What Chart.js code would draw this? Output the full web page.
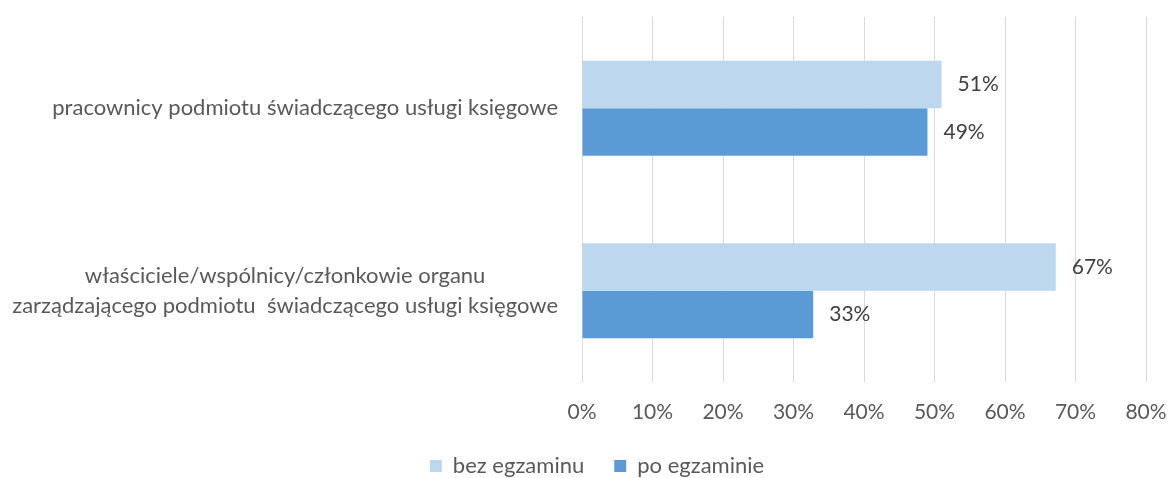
<!DOCTYPE html>
<html>
<head>
<meta charset="utf-8">
<script src="https://cdn.jsdelivr.net/npm/chart.js@4"></script>
<style>
  html, body { margin: 0; padding: 0; background: #fff; }
  #wrap { width: 1170px; height: 478px; }
</style>
</head>
<body>
<div id="wrap"><canvas id="chart"></canvas></div>
<script>
// data
const categories = [
  ['pracownicy podmiotu świadczącego usługi księgowe'],
  ['właściciele/wspólnicy/członkowie organu', 'zarządzającego podmiotu  świadczącego usługi księgowe']
];
const seriesNames = ['bez egzaminu', 'po egzaminie'];
const bezEgzaminu = [51, 67.2];
const poEgzaminie = [49, 32.8];
const xMax = 80;
const xStep = 10;

const FONT = 'Lato';
const textGrey = '#595959';
const PAD_LEFT = 48;

// value labels at the end of each bar
const valueLabels = {
  id: 'valueLabels',
  afterDatasetsDraw(chart) {
    const ctx = chart.ctx;
    ctx.save();
    ctx.font = '21px ' + FONT;
    ctx.fillStyle = '#404040';
    ctx.textAlign = 'left';
    ctx.textBaseline = 'middle';
    chart.data.datasets.forEach((ds, i) => {
      chart.getDatasetMeta(i).data.forEach((bar, j) => {
        ctx.fillText(Math.round(ds.data[j]) + '%', bar.x + 16, bar.y);
      });
    });
    ctx.restore();
  }
};

// category labels: each block right aligned, lines centred inside the block
const categoryLabels = {
  id: 'categoryLabels',
  afterDraw(chart) {
    const ctx = chart.ctx;
    const yScale = chart.scales.y;
    const right = chart.chartArea.left - 24;
    const lineH = 30;
    ctx.save();
    ctx.font = '22px ' + FONT;
    ctx.fillStyle = textGrey;
    ctx.textAlign = 'center';
    ctx.textBaseline = 'middle';
    categories.forEach((lines, i) => {
      const y = yScale.getPixelForValue(i);
      const w = Math.max(...lines.map(l => ctx.measureText(l).width));
      lines.forEach((l, k) => {
        ctx.fillText(l, right - w / 2, y + (k - (lines.length - 1) / 2) * lineH);
      });
    });
    ctx.restore();
  }
};

const ctx = document.getElementById('chart').getContext('2d');
const chart = new Chart(ctx, {
  type: 'bar',
  data: {
    labels: categories.map(c => c.join(' ')),
    datasets: [
      {
        label: seriesNames[0],
        data: bezEgzaminu,
        backgroundColor: '#BDD7EE',
        barPercentage: 1,
        categoryPercentage: 0.52
      },
      {
        label: seriesNames[1],
        data: poEgzaminie,
        backgroundColor: '#5B9BD5',
        barPercentage: 1,
        categoryPercentage: 0.52
      }
    ]
  },
  options: {
    indexAxis: 'y',
    responsive: true,
    maintainAspectRatio: false,
    animation: false,
    layout: { padding: { top: 17, right: 24, bottom: -9, left: PAD_LEFT } },
    scales: {
      x: {
        min: 0,
        max: xMax,
        grid: { color: '#D9D9D9', lineWidth: 1, drawTicks: false },
        border: { display: false },
        ticks: {
          stepSize: xStep,
          padding: 18,
          color: textGrey,
          font: { family: FONT, size: 21 },
          callback: v => v + '%'
        },
        afterFit(scale) {
          scale.height = 43;
          scale.paddingLeft = 0;
          scale.paddingRight = 0;
        }
      },
      y: {
        grid: { display: false },
        border: { display: false },
        ticks: { display: false },
        afterFit(scale) { scale.width = 582 - PAD_LEFT; }
      }
    },
    plugins: {
      legend: {
        position: 'bottom',
        labels: {
          boxWidth: 12,
          boxHeight: 12,
          padding: 30,
          color: textGrey,
          font: { family: FONT, size: 22 }
        }
      },
      tooltip: { enabled: false }
    }
  },
  plugins: [valueLabels, categoryLabels]
});
</script>
</body>
</html>
